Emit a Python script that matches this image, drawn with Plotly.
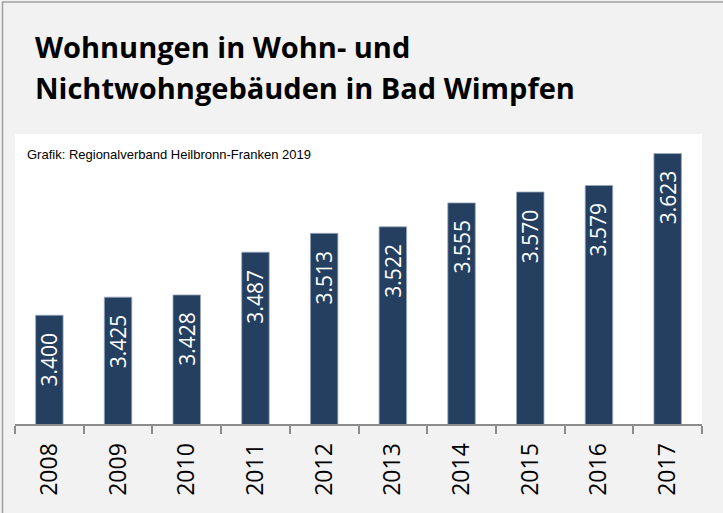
import plotly.graph_objects as go

years = ["2008", "2009", "2010", "2011", "2012", "2013", "2014", "2015", "2016", "2017"]
values = [3400, 3425, 3428, 3487, 3513, 3522, 3555, 3570, 3579, 3623]
labels = ["3.400", "3.425", "3.428", "3.487", "3.513", "3.522", "3.555", "3.570", "3.579", "3.623"]
title_lines = ["Wohnungen in Wohn- und", "Nichtwohngebäuden in Bad Wimpfen"]
source = "Grafik: Regionalverband Heilbronn-Franken 2019"

W, H = 723, 513
L, R, T, B = 15, 21, 134, 89
PW, PH = W - L - R, H - T - B

def px(x):
    return (x - L) / PW

def py(y):
    return (H - B - y) / PH

fig = go.Figure()
fig.add_trace(go.Bar(
    x=years, y=values, width=0.4,
    marker=dict(color="#253f60", line=dict(color="#9aa8bd", width=0.8)),
    hoverinfo="skip",
))

ann = []
for i, (v, lb) in enumerate(zip(values, labels)):
    ann.append(dict(x=i, y=v, xref="x", yref="y", text=lb, showarrow=False,
                    textangle=-90, yanchor="top", xanchor="center", yshift=-15,
                    font=dict(family="Open Sans", size=21, color="white")))

ann.append(dict(x=px(33), y=py(46), xref="paper", yref="paper", text="<b>" + title_lines[0] + "</b>",
                showarrow=False, xanchor="left", yanchor="middle",
                font=dict(family="Open Sans", size=29, color="black")))
ann.append(dict(x=px(33), y=py(88), xref="paper", yref="paper", text="<b>" + title_lines[1] + "</b>",
                showarrow=False, xanchor="left", yanchor="middle",
                font=dict(family="Open Sans", size=29, color="black")))
ann.append(dict(x=px(25), y=py(154), xref="paper", yref="paper", text=source,
                showarrow=False, xanchor="left", yanchor="middle",
                font=dict(family="Liberation Sans", size=13, color="black")))

shapes = [
    dict(type="line", xref="paper", yref="paper", x0=px(2.5), x1=px(2.5), y0=py(2), y1=py(513),
         line=dict(color="#a0a0a0", width=1.5)),
    dict(type="line", xref="paper", yref="paper", x0=px(2), x1=px(723), y0=py(2), y1=py(2),
         line=dict(color="#a0a0a0", width=1.5)),
]

fig.update_layout(
    width=W, height=H,
    margin=dict(l=L, r=R, t=T, b=B),
    paper_bgcolor="#f2f2f2", plot_bgcolor="white",
    showlegend=False,
    annotations=ann, shapes=shapes,
    xaxis=dict(type="category", range=[-0.5, 9.5], automargin=False, fixedrange=True,
               showline=True, linecolor="#8c8c8c", linewidth=2,
               ticks="outside", tickson="boundaries", ticklen=8, tickwidth=1.5, tickcolor="#8c8c8c",
               tickangle=-90, ticklabelstandoff=8, showgrid=False,
               tickfont=dict(family="Open Sans", size=23, color="black")),
    yaxis=dict(visible=False, range=[3250, 3650], fixedrange=True, automargin=False),
)

fig.write_html("out.html")
